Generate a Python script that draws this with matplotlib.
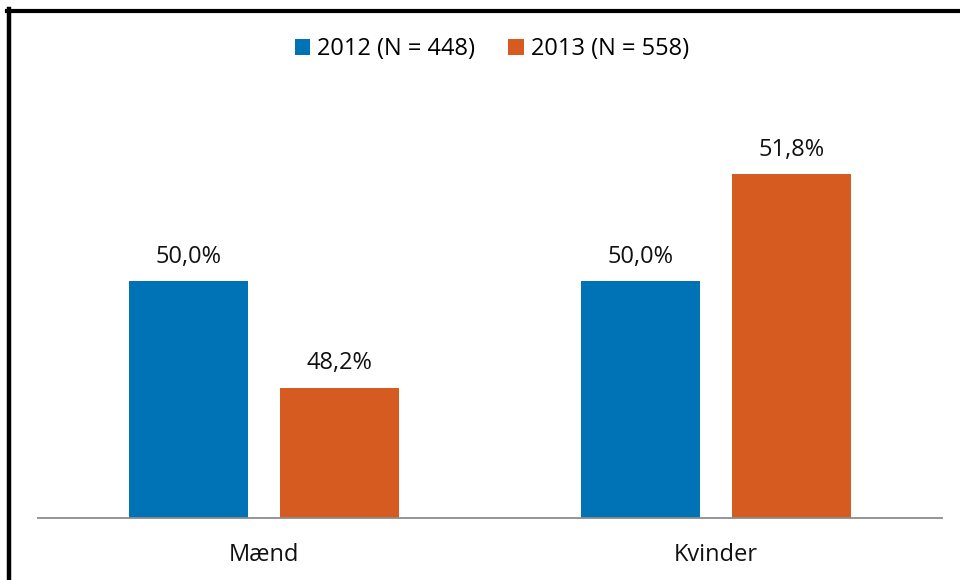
import matplotlib
matplotlib.use("Agg")
import matplotlib.pyplot as plt
from matplotlib.patches import Patch
from matplotlib.lines import Line2D
import numpy as np

# data
categories = ["Mænd", "Kvinder"]
series_names = ["2012 (N = 448)", "2013 (N = 558)"]
values_2012 = [50.0, 50.0]
values_2013 = [48.2, 51.8]
colors = ["#0072B6", "#D65B21"]

plt.rcParams['font.family'] = ['Open Sans', 'DejaVu Sans']
fs = 17

fig = plt.figure(figsize=(9.6, 5.8), dpi=100)
ax = fig.add_axes([0.0396, 0.1069, 0.9417, 0.818])

x = np.arange(len(categories))
width = 0.263
offset = 0.167
for vals, col, sign in [(values_2012, colors[0], -1), (values_2013, colors[1], 1)]:
    bars = ax.bar(x + sign * offset, vals, width, color=col)
    for b, v in zip(bars, vals):
        ax.annotate(f"{v:.1f}%".replace(".", ","), (b.get_x() + b.get_width() / 2, v),
                    xytext=(0, 13), textcoords="offset points",
                    ha="center", va="baseline", fontsize=fs, color="#111111")

ax.set_xlim(-0.5, 1.5)
ax.set_ylim(46, 54)
for s in ["top", "right", "left"]:
    ax.spines[s].set_visible(False)
ax.spines["bottom"].set_color("#8c8c8c")
ax.spines["bottom"].set_linewidth(1.3)
ax.set_yticks([])
ax.set_xticks([])

for i, c in enumerate(categories):
    ax.annotate(c, (i, 0), xycoords=("data", "axes fraction"),
                xytext=(0, -31), textcoords="offset points",
                ha="center", va="baseline", fontsize=fs, color="#111111")

handles = [Patch(facecolor=c, edgecolor="none") for c in colors]
fig.legend(handles, series_names, loc="center", ncol=2,
           bbox_to_anchor=(492 / 960, 1 - 49 / 580), frameon=False,
           fontsize=fs, handlelength=0.65, handleheight=0.65,
           handletextpad=0.3, columnspacing=1.4)

# black frame on top and left edge
fig.add_artist(Line2D([7 / 960, 1.0], [1 - 10.5 / 580, 1 - 10.5 / 580],
                      transform=fig.transFigure, color="black", linewidth=3))
fig.add_artist(Line2D([9 / 960, 9 / 960], [0.0, 1 - 9 / 580],
                      transform=fig.transFigure, color="black", linewidth=3.2))

fig.savefig("out.png", dpi=100)
